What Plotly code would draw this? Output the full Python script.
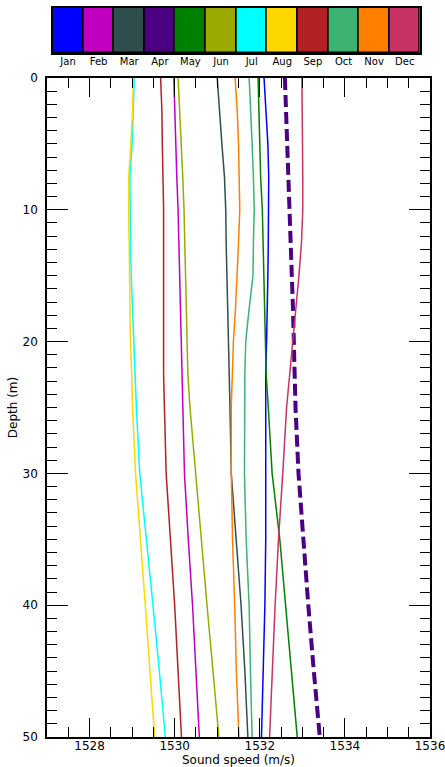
import plotly.graph_objects as go

# Monthly sound-speed profiles (m/s) against depth (m)
depth = [0, 2.5, 5, 7.5, 10, 12.5, 15, 17.5, 20, 22.5, 25, 30, 35, 40, 45, 50]

months = ["Jan", "Feb", "Mar", "Apr", "May", "Jun",
          "Jul", "Aug", "Sep", "Oct", "Nov", "Dec"]

month_colors = ["#0000FF", "#BF00BF", "#2F4F4F", "#4B0082", "#008000", "#9AAA00",
                "#00FFFF", "#FFD700", "#B22222", "#3CB371", "#FF8000", "#C83264"]

jan = [1532.10, 1532.15, 1532.19, 1532.21, 1532.21, 1532.20, 1532.19, 1532.18,
       1532.16, 1532.14, 1532.14, 1532.14, 1532.14, 1532.12, 1532.08, 1532.04]
feb = [1529.98, 1530.00, 1530.03, 1530.05, 1530.08, 1530.10, 1530.12, 1530.14,
       1530.16, 1530.18, 1530.20, 1530.23, 1530.32, 1530.42, 1530.50, 1530.58]
mar = [1531.00, 1531.05, 1531.11, 1531.17, 1531.20, 1531.21, 1531.23, 1531.25,
       1531.27, 1531.29, 1531.30, 1531.33, 1531.44, 1531.56, 1531.65, 1531.72]
apr = [1532.59, 1532.62, 1532.65, 1532.68, 1532.71, 1532.74, 1532.76, 1532.78,
       1532.80, 1532.81, 1532.84, 1532.91, 1533.02, 1533.14, 1533.27, 1533.41]
may = [1531.96, 1531.98, 1532.00, 1532.02, 1532.06, 1532.08, 1532.10, 1532.11,
       1532.13, 1532.15, 1532.20, 1532.29, 1532.47, 1532.61, 1532.75, 1532.88]
jun = [1530.08, 1530.12, 1530.16, 1530.19, 1530.22, 1530.24, 1530.25, 1530.27,
       1530.29, 1530.31, 1530.36, 1530.49, 1530.63, 1530.76, 1530.90, 1531.04]
jul = [1529.05, 1529.03, 1529.00, 1528.95, 1528.95, 1528.96, 1528.98, 1529.01,
       1529.03, 1529.07, 1529.10, 1529.18, 1529.34, 1529.49, 1529.64, 1529.78]
aug = [1529.03, 1529.01, 1528.97, 1528.92, 1528.92, 1528.93, 1528.94, 1528.95,
       1528.96, 1528.99, 1529.01, 1529.08, 1529.20, 1529.31, 1529.42, 1529.53]
sep = [1529.67, 1529.70, 1529.71, 1529.73, 1529.74, 1529.74, 1529.74, 1529.74,
       1529.74, 1529.74, 1529.76, 1529.80, 1529.90, 1530.00, 1530.08, 1530.16]
oct_ = [1531.75, 1531.79, 1531.82, 1531.85, 1531.87, 1531.85, 1531.84, 1531.75,
        1531.67, 1531.65, 1531.65, 1531.64, 1531.68, 1531.75, 1531.78, 1531.82]
nov = [1531.42, 1531.47, 1531.50, 1531.52, 1531.53, 1531.50, 1531.47, 1531.43,
       1531.38, 1531.35, 1531.33, 1531.33, 1531.36, 1531.41, 1531.45, 1531.51]
dec = [1532.99, 1533.00, 1533.01, 1533.01, 1533.01, 1532.98, 1532.92, 1532.85,
       1532.77, 1532.70, 1532.63, 1532.54, 1532.44, 1532.36, 1532.29, 1532.23]

profiles = [jan, feb, mar, apr, may, jun, jul, aug, sep, oct_, nov, dec]

x_ticks = [1528, 1530, 1532, 1534, 1536]
y_ticks = [0, 10, 20, 30, 40, 50]

FONT = "DejaVu Sans"

fig = go.Figure()

for name, color, speeds in zip(months, month_colors, profiles):
    if name == "Apr":
        line = dict(color=color, width=4, dash="12px,5px")
    else:
        line = dict(color=color, width=1.5)
    fig.add_trace(go.Scatter(x=speeds, y=depth, mode="lines", name=name,
                             line=line, showlegend=False,
                             xaxis="x", yaxis="y"))

# Month colour key drawn as a strip of adjoining boxes
fig.add_trace(go.Bar(x=months, y=[1] * len(months),
                     marker=dict(color=month_colors,
                                 line=dict(color="black", width=1.5)),
                     showlegend=False, xaxis="x2", yaxis="y2",
                     hoverinfo="x"))

fig.update_layout(
    width=445, height=767,
    margin=dict(l=47, r=15, t=8, b=30, autoexpand=False),
    paper_bgcolor="white", plot_bgcolor="white",
    font=dict(family=FONT, size=12, color="black"),
    bargap=0,
    xaxis=dict(
        domain=[0, 1], anchor="y", automargin=False,
        range=[1527, 1536], tickvals=x_ticks,
        ticklabeloverflow="allow",
        ticks="inside", ticklen=19, tickwidth=1, tickcolor="black",
        minor=dict(dtick=0.5, ticks="inside", ticklen=10, tickwidth=1,
                   tickcolor="black", showgrid=False),
        showline=True, linecolor="black", linewidth=1.5, mirror="ticks",
        showgrid=False, zeroline=False,
        tickfont=dict(size=12), ticklabelstandoff=-3,
        title=dict(text="Sound speed (m/s)", font=dict(size=12), standoff=8),
    ),
    yaxis=dict(
        domain=[0, 0.904], anchor="x", automargin=False,
        range=[50, 0], tickvals=y_ticks,
        ticklabeloverflow="allow",
        ticks="inside", ticklen=21, tickwidth=1, tickcolor="black",
        minor=dict(dtick=1, ticks="inside", ticklen=10, tickwidth=1,
                   tickcolor="black", showgrid=False),
        showline=True, linecolor="black", linewidth=1.5, mirror="ticks",
        showgrid=False, zeroline=False,
        tickfont=dict(size=12), ticklabelstandoff=5,
        title=dict(text="Depth (m)", font=dict(size=12), standoff=2),
    ),
    xaxis2=dict(
        domain=[0.0149, 0.974], anchor="y2", automargin=False,
        range=[-0.5, 11.5], ticks="", showgrid=False, zeroline=False,
        showline=True, linecolor="black", linewidth=2, mirror=True,
        tickfont=dict(size=10), ticklabelstandoff=-2,
    ),
    yaxis2=dict(
        domain=[0.938, 1.0], anchor="x2", automargin=False,
        range=[0, 1], showticklabels=False, ticks="", showgrid=False,
        zeroline=False, showline=True, linecolor="black", linewidth=2,
        mirror=True,
    ),
)

fig.write_html("out.html")
